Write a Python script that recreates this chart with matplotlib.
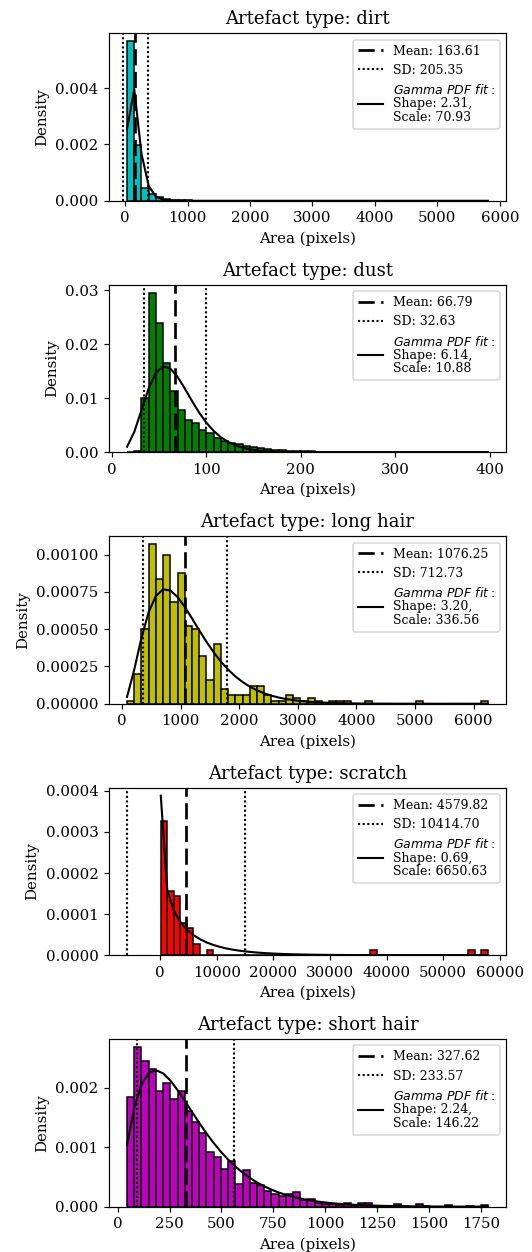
import math
import numpy as np
import matplotlib
matplotlib.use("Agg")
import matplotlib.pyplot as plt

plt.rcParams['font.family'] = 'serif'
plt.rcParams['font.serif'] = ['DejaVu Serif']

# ---------------- data ----------------
artefact_types = ["dirt", "dust", "long hair", "scratch", "short hair"]
bar_colors = ["c", "g", "y", "r", "m"]

# histogram ranges (min, max area) -- 50 equal bins each
dirt_range = (30.0, 5810.0)
dust_range = (16.1, 398.3)
long_hair_range = (85.0, 6245.0)
scratch_range = (122.0, 57900.0)
short_hair_range = (45.2, 1784.0)

dirt_density = [0.00566, 0.00198, 0.00044, 0.00025, 0.00014, 0.00008, 0.00004, 0.00002, 0.000015, 0.00001,
                0.000006, 0.000004, 0.000003, 0.000002, 0.000002, 0.000001, 0.000001, 0, 0.000001, 0,
                0, 0.000001, 0, 0, 0, 0, 0, 0, 0, 0,
                0, 0, 0, 0, 0, 0, 0, 0, 0, 0,
                0, 0, 0, 0, 0, 0, 0, 0, 0, 0.000001]

dust_density = [0.0001, 0.0002, 0.0101, 0.0295, 0.0239, 0.0166, 0.0114, 0.0079, 0.0059, 0.0054,
                0.0042, 0.0036, 0.0026, 0.0021, 0.0017, 0.0015, 0.0012, 0.0010, 0.0007, 0.0006,
                0.0005, 0.0004, 0.0003, 0.00025, 0.0002, 0.00015, 0.00012, 0.0001, 0.00008, 0.00006,
                0.00005, 0.00004, 0.00003, 0.00003, 0.00002, 0.00002, 0.00001, 0.00001, 0.00001, 0.00001,
                0, 0.00001, 0, 0, 0.00001, 0, 0, 0, 0, 0.00001]

long_hair_density = [0.00002, 0.0002, 0.0005, 0.00107, 0.00084, 0.0010, 0.00068, 0.00088, 0.00052, 0.0005,
                     0.00032, 0.00016, 0.0004, 0.0001, 0.00006, 0.00006, 0.00006, 0.00012, 0.00012, 0.00006,
                     0.00002, 0.00002, 0.00006, 0.00004, 0.00002, 0.00004, 0.00002, 0, 0.00002, 0.00002,
                     0.00002, 0, 0, 0.00002, 0, 0, 0, 0, 0, 0,
                     0.00002, 0, 0, 0, 0, 0, 0, 0, 0, 0.00002]

scratch_density = [0.000327, 0.000157, 0.000145, 0.000079, 0.000065, 0.000027, 0, 0.0000135, 0, 0,
                   0, 0, 0, 0, 0, 0, 0, 0, 0, 0,
                   0, 0, 0, 0, 0, 0, 0, 0, 0, 0,
                   0, 0, 0.0000135, 0, 0, 0, 0, 0, 0, 0,
                   0, 0, 0, 0, 0, 0, 0, 0.0000135, 0, 0.0000135]

short_hair_density = [0.00185, 0.00268, 0.00244, 0.00231, 0.00195, 0.00208, 0.00181, 0.00194, 0.0016, 0.00143,
                      0.00124, 0.00092, 0.00084, 0.00063, 0.00077, 0.00038, 0.00061, 0.00039, 0.00036, 0.00027,
                      0.00021, 0.00018, 0.00022, 0.00025, 0.00011, 0.00013, 0.00006, 0.00005, 0.00004, 0.00003,
                      0.00007, 0.00003, 0.00007, 0.00007, 0.00002, 0.00002, 0.00002, 0.00005, 0.00002, 0,
                      0.00005, 0.00002, 0, 0, 0.00003, 0, 0, 0.00002, 0, 0.00003]

means = [163.61, 66.79, 1076.25, 4579.82, 327.62]
sds = [205.35, 32.63, 712.73, 10414.70, 233.57]
gamma_shapes = [2.31, 6.14, 3.20, 0.69, 2.24]
gamma_scales = [70.93, 10.88, 336.56, 6650.63, 146.22]

ranges = [dirt_range, dust_range, long_hair_range, scratch_range, short_hair_range]
densities = [dirt_density, dust_density, long_hair_density, scratch_density, short_hair_density]


def gamma_pdf(x, k, theta):
    x = np.asarray(x, dtype=float)
    logp = (k - 1) * np.log(x) - x / theta - math.lgamma(k) - k * math.log(theta)
    return np.exp(logp)


DPI = 108
fig, axes = plt.subplots(5, 1, figsize=(532 / DPI, 1252 / DPI), dpi=DPI)
fig.subplots_adjust(left=109 / 532, right=506 / 532, top=1 - 33.3 / 1252,
                    bottom=1 - 1206.7 / 1252, hspace=0.5015)

for i, ax in enumerate(axes):
    lo, hi = ranges[i]
    dens = densities[i]
    edges = np.linspace(lo, hi, len(dens) + 1)
    ax.hist(edges[:-1], bins=edges, weights=dens, color=bar_colors[i],
            edgecolor='black', linewidth=1.0)
    fit_line, = ax.plot(edges, gamma_pdf(edges, gamma_shapes[i], gamma_scales[i]),
                        color='black', lw=1.4)
    m, s = means[i], sds[i]
    mean_line = ax.axvline(m, color='black', ls=(0, (6.0, 2.4)), lw=1.8)
    sd_line = ax.axvline(m - s, color='black', ls=(0, (1, 1.2)), lw=1.4)
    ax.axvline(m + s, color='black', ls=(0, (1, 1.2)), lw=1.4)
    labels = [f"Mean: {m:.2f}", f"SD: {s:.2f}",
              r"$\it{Gamma\ PDF\ fit}:$" + f"\nShape: {gamma_shapes[i]:.2f},\nScale: {gamma_scales[i]:.2f}"]
    leg = ax.legend([mean_line, sd_line, fit_line], labels, loc='upper right', fontsize='small')
    for t in leg.get_texts():
        t.set_linespacing(1.03)
    ax.set_title(f"Artefact type: {artefact_types[i]}")
    ax.set_xlabel("Area (pixels)")
    ax.set_ylabel("Density")

fig.savefig("out.png", dpi=DPI)
